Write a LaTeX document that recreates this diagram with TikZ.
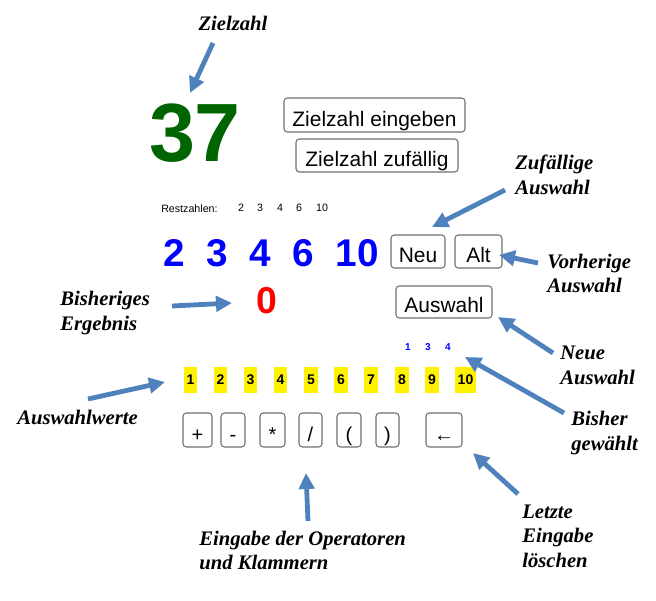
\documentclass[tikz,border=0pt]{standalone}
\usepackage{fontspec}
\setmainfont{Liberation Serif}
\newfontfamily\arialfont{Liberation Sans}
\usetikzlibrary{arrows.meta}
\definecolor{arrowblue}{HTML}{4F81BD}
\definecolor{targetgreen}{HTML}{006400}
\definecolor{btnborder}{HTML}{6E6E6E}
\begin{document}
\begin{tikzpicture}[x=0.75pt,y=-0.75pt,
  note/.style={font=\fontsize{15.5}{18.5}\selectfont\bfseries\itshape, align=left, inner sep=0pt, anchor=west},
  callout/.style={draw=arrowblue, line width=3.6pt, -{Triangle[length=12pt,width=11.5pt]}},
  btn/.style={draw=btnborder, line width=0.8pt, rounded corners=2.5pt, fill=white, inner sep=0pt, text height=16pt, text depth=0pt, font=\arialfont\fontsize{15.7}{18}\selectfont},
  opbtn/.style={btn, minimum height=25.5pt, text height=16.5pt, font=\arialfont\fontsize{15}{17}\selectfont},
  bignum/.style={inner sep=0pt, text=blue, font=\arialfont\bfseries\fontsize{29}{30}\selectfont},
  pick/.style={fill=yellow, inner xsep=2pt, inner ysep=0pt, minimum height=19.5pt, font=\arialfont\bfseries\fontsize{10.5}{12}\selectfont},
  rest/.style={inner sep=0pt, font=\arialfont\fontsize{8}{9}\selectfont},
  chosen/.style={inner sep=0pt, text=blue, font=\arialfont\bfseries\fontsize{7.5}{8}\selectfont}
]
\useasboundingbox (0,0) rectangle (656,600);

% target number
\node[note, anchor=center] (lZiel) at (233,23) {Zielzahl};
\node[inner sep=0pt, text=targetgreen, font=\arialfont\bfseries\fontsize{62}{64}\selectfont] (ziel) at (195,133) {37};
\node[btn, minimum width=135.75pt, minimum height=25.5pt, text height=17.5pt] (bEing) at (374.5,115) {Zielzahl eingeben};
\node[btn, minimum width=121.5pt, minimum height=24.75pt] (bZuf) at (377,155.5) {Zielzahl zufällig};

% rest numbers
\node[rest, anchor=west] (restlbl) at (161,209) {Restzahlen:};
\node[rest] (r1) at (241,208) {2};
\node[rest] (r2) at (260,208) {3};
\node[rest] (r3) at (280,208) {4};
\node[rest] (r4) at (299,208) {6};
\node[rest] (r5) at (322,208) {10};

% big blue numbers
\node[bignum] (n1) at (174,253) {2};
\node[bignum] (n2) at (217,253) {3};
\node[bignum] (n3) at (260,253) {4};
\node[bignum] (n4) at (303,253) {6};
\node[bignum] (n5) at (357,253) {10};

\node[btn, minimum width=40.5pt, minimum height=24.75pt] (bNeu) at (418,251.5) {Neu};
\node[btn, minimum width=35.25pt, minimum height=24.75pt] (bAlt) at (478.5,251.5) {Alt};
\node[btn, minimum width=72pt, minimum height=24pt] (bAusw) at (444,302) {Auswahl};

% result
\node[inner sep=0pt, text=red, font=\arialfont\bfseries\fontsize{28}{30}\selectfont] (erg) at (267,301) {0};

% chosen so far
\node[chosen] (c1) at (408,347) {1};
\node[chosen] (c2) at (428,347) {3};
\node[chosen] (c3) at (448,347) {4};

% selection values
\node[pick] (p1) at (190.5,380) {1};
\node[pick] (p2) at (220.5,380) {2};
\node[pick] (p3) at (250.5,380) {3};
\node[pick] (p4) at (280.5,380) {4};
\node[pick] (p5) at (311,380) {5};
\node[pick] (p6) at (341,380) {6};
\node[pick] (p7) at (371,380) {7};
\node[pick] (p8) at (402,380) {8};
\node[pick] (p9) at (432,380) {9};
\node[pick] (p10) at (465.5,380) {10};

% operator buttons
\node[opbtn, minimum width=21.75pt] (oPlus) at (197.5,430) {+};
\node[opbtn, minimum width=18pt] (oMinus) at (233,430) {-};
\node[opbtn, minimum width=18.75pt] (oMul) at (272.5,430) {*};
\node[opbtn, minimum width=17.25pt] (oDiv) at (310.5,430) {/};
\node[opbtn, minimum width=18pt] (oOpen) at (349,430) {(};
\node[opbtn, minimum width=17.25pt] (oClose) at (387.5,430) {)};
\node[opbtn, minimum width=27pt] (oBack) at (444,430) {←};

% annotations
\node[note] (lZufAusw) at (515,175) {Zufällige\\Auswahl};
\node[note] (lVorh) at (547,273.5) {Vorherige\\Auswahl};
\node[note] (lNeue) at (560,365.5) {Neue\\Auswahl};
\node[note] (lBisher) at (571,433) {Bisher\\gewählt};
\node[note] (lLetzte) at (522,536) {Letzte\\Eingabe\\löschen};
\node[note] (lOps) at (199,550.5) {Eingabe der Operatoren\\und Klammern};
\node[note] (lErg) at (60,313) {Bisheriges\\Ergebnis};
\node[note] (lWerte) at (17,417) {Auswahlwerte};

% arrow end points
\coordinate (aZs) at (213,43);   \coordinate (aZe) at (190,93);
\coordinate (aRs) at (505,190);  \coordinate (aRe) at (432,227);
\coordinate (aVs) at (538,263);  \coordinate (aVe) at (499,255);
\coordinate (aNs) at (553,353);  \coordinate (aNe) at (498,317);
\coordinate (aBs) at (564,413);  \coordinate (aBe) at (465,357);
\coordinate (aLs) at (518,494);  \coordinate (aLe) at (473,453);
\coordinate (aOs) at (308,521);  \coordinate (aOe) at (306,473);
\coordinate (aEs) at (172,306);  \coordinate (aEe) at (232,303);
\coordinate (aWs) at (88,399);   \coordinate (aWe) at (165,382);

\draw[callout] (aZs) -- (aZe);
\draw[callout] (aRs) -- (aRe);
\draw[callout] (aVs) -- (aVe);
\draw[callout] (aNs) -- (aNe);
\draw[callout] (aBs) -- (aBe);
\draw[callout] (aLs) -- (aLe);
\draw[callout] (aOs) -- (aOe);
\draw[callout] (aEs) -- (aEe);
\draw[callout] (aWs) -- (aWe);
\end{tikzpicture}
\end{document}
